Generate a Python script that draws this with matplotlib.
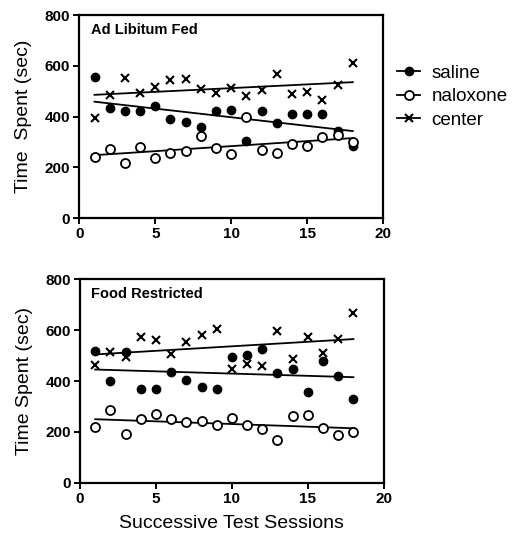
import numpy as np
import matplotlib
matplotlib.use("Agg")
import matplotlib.pyplot as plt

plt.rcParams['font.family'] = ['Liberation Sans', 'DejaVu Sans']

sessions = np.arange(1, 19)

# Ad libitum fed
adlib_saline = [557, 435, 422, 422, 440, 391, 379, 361, 424, 426, 305, 422, 374, 412, 412, 409, 344, 285]
adlib_naloxone = [241, 272, 219, 282, 239, 258, 265, 325, 278, 253, 398, 268, 256, 291, 286, 319, 328, 299]
adlib_center = [396, 485, 552, 493, 516, 544, 550, 508, 493, 514, 483, 505, 567, 489, 496, 467, 524, 613]

# Food restricted
fr_saline = [518, 400, 515, 369, 369, 437, 403, 378, 367, 493, 501, 527, 430, 449, 358, 480, 420, 328]
fr_naloxone = [218, 286, 190, 252, 269, 252, 240, 241, 227, 256, 228, 212, 168, 262, 268, 216, 189, 201]
fr_center = [463, 514, 493, 574, 560, 507, 555, 580, 605, 449, 468, 458, 598, 487, 572, 509, 564, 669]

labels = ['saline', 'naloxone', 'center']
titles = ['Ad Libitum Fed', 'Food Restricted']
ylabels = ['Time  Spent (sec)', 'Time Spent (sec)']

marker_styles = [
    dict(marker='o', markersize=6, markerfacecolor='black', markeredgecolor='black'),
    dict(marker='o', markersize=6.5, markerfacecolor='white', markeredgecolor='black', markeredgewidth=1.3),
    dict(marker='x', markersize=6, markeredgecolor='black', markeredgewidth=1.5),
]


def draw_panel(ax, series, title, ylabel):
    for vals, st, lab in zip(series, marker_styles, labels):
        vals = np.array(vals, dtype=float)
        slope, icpt = np.polyfit(sessions, vals, 1)
        xs = np.array([sessions[0], sessions[-1]])
        ax.plot(xs, slope * xs + icpt, color='black', lw=1.3, zorder=2)
        ax.plot(sessions, vals, linestyle='none', zorder=3, **st)
        # legend handle: line with marker
        ax.plot([], [], color='black', lw=1.3, label=lab, **st)
    ax.set_xlim(0, 20)
    ax.set_ylim(0, 800)
    ax.set_xticks([0, 5, 10, 15, 20])
    ax.set_yticks([0, 200, 400, 600, 800])
    for s in ax.spines.values():
        s.set_linewidth(1.6)
    ax.tick_params(direction='out', length=4.5, width=1.4, labelsize=11, pad=2)
    for t in ax.get_xticklabels() + ax.get_yticklabels():
        t.set_fontweight('bold')
    ax.set_ylabel(ylabel, fontsize=14, labelpad=9)
    ax.text(0.037, 0.96, title, transform=ax.transAxes, ha='left', va='top',
            fontsize=10.5, fontweight='bold')


fig = plt.figure(figsize=(5.15, 5.36), dpi=100)
ax1 = fig.add_axes([0.154, 0.5927, 0.590, 0.3793])
ax2 = fig.add_axes([0.1553, 0.0994, 0.590, 0.3795])

draw_panel(ax1, [adlib_saline, adlib_naloxone, adlib_center], titles[0], ylabels[0])
draw_panel(ax2, [fr_saline, fr_naloxone, fr_center], titles[1], ylabels[1])

ax2.set_xlabel('Successive Test Sessions', fontsize=14, labelpad=7)

ax1.legend(loc='upper left', bbox_to_anchor=(1.045, 0.755), frameon=False,
           borderpad=0, borderaxespad=0, fontsize=13.5, handlelength=1.25,
           handletextpad=0.6, labelspacing=0.33)

fig.savefig('out.png', dpi=100)
